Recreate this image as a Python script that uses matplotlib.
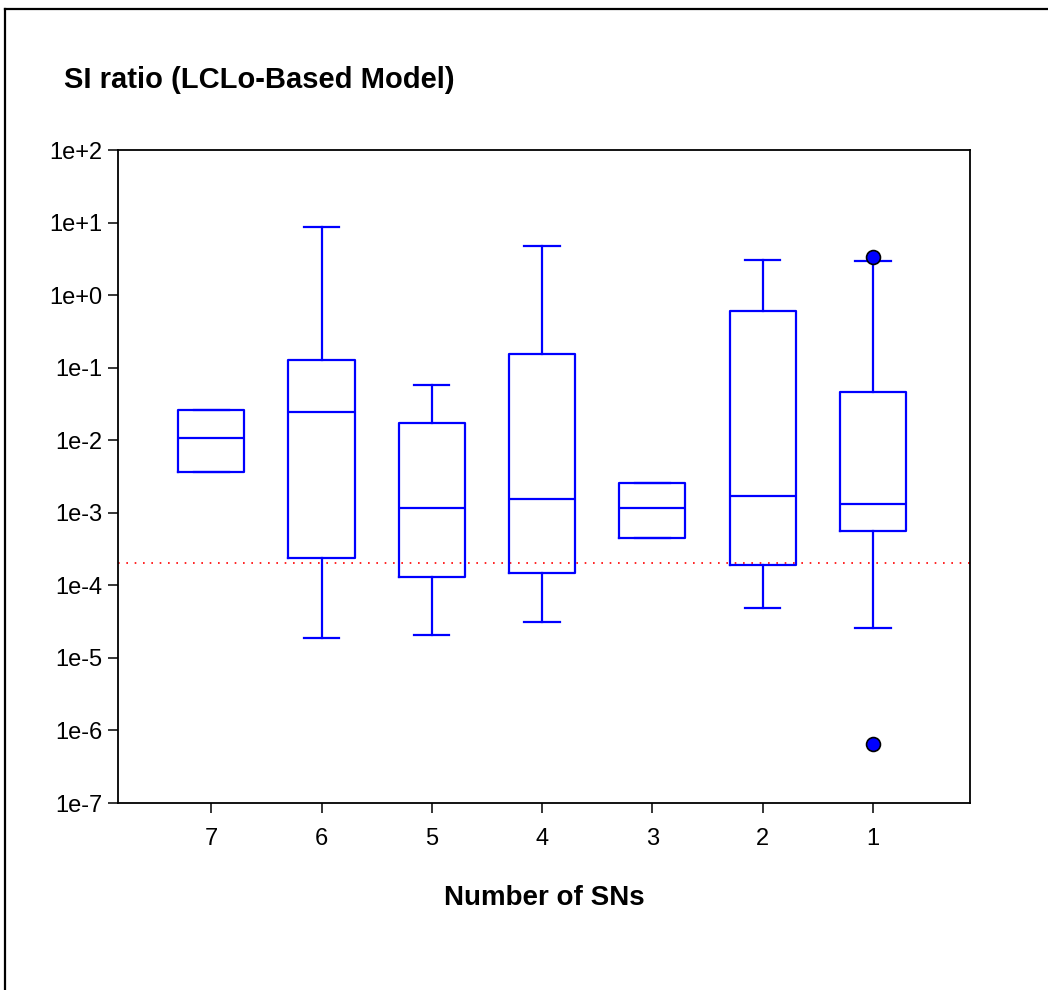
import matplotlib
matplotlib.use("Agg")
import matplotlib.pyplot as plt
from matplotlib.lines import Line2D
from matplotlib.ticker import FixedLocator, NullLocator

# Box statistics per number of SNs (log-scale SI ratio)
categories = ["7", "6", "5", "4", "3", "2", "1"]
whisker_low = [3.7e-3, 1.9e-5, 2.1e-5, 3.1e-5, 4.5e-4, 4.9e-5, 2.6e-5]
q1 = [3.7e-3, 2.35e-4, 1.3e-4, 1.5e-4, 4.5e-4, 1.89e-4, 5.6e-4]
medians = [1.07e-2, 2.45e-2, 1.16e-3, 1.53e-3, 1.17e-3, 1.72e-3, 1.31e-3]
q3 = [2.6e-2, 0.126, 1.71e-2, 0.154, 2.55e-3, 0.604, 4.67e-2]
whisker_high = [2.6e-2, 8.8, 5.7e-2, 4.75, 2.55e-3, 3.05, 2.95]
outliers = [[], [], [], [], [], [], [3.3, 6.5e-7]]

threshold = 2e-4
ytick_values = [1e-7, 1e-6, 1e-5, 1e-4, 1e-3, 1e-2, 1e-1, 1e0, 1e1, 1e2]
ytick_labels = ["1e-7", "1e-6", "1e-5", "1e-4", "1e-3", "1e-2", "1e-1",
                "1e+0", "1e+1", "1e+2"]

plt.rcParams["font.family"] = ["Liberation Sans", "DejaVu Sans"]

W, H = 1048, 990
fig = plt.figure(figsize=(W / 100, H / 100), dpi=100)
ax = fig.add_axes([118 / W, 1 - 803 / H, (970 - 118) / W, (803 - 150) / H])

stats = []
for i, name in enumerate(categories):
    stats.append(dict(label=name, whislo=whisker_low[i], q1=q1[i],
                      med=medians[i], q3=q3[i], whishi=whisker_high[i],
                      fliers=outliers[i]))

blue = "#0000ff"
positions = list(range(1, len(categories) + 1))
line_kw = dict(color=blue, linewidth=1.6)
ax.bxp(stats, positions=positions, widths=0.6, capwidths=0.32,
       showfliers=True,
       boxprops=line_kw, whiskerprops=line_kw, capprops=line_kw,
       medianprops=line_kw,
       flierprops=dict(marker="o", markerfacecolor=blue,
                       markeredgecolor="black", markersize=10,
                       markeredgewidth=1.2, linestyle="none"))

ax.axhline(threshold, color="red", linewidth=1.2, linestyle=(0, (1, 4)),
           zorder=1)

ax.set_yscale("log")
ax.set_ylim(1e-7, 1e2)
ax.set_xlim(0.154, 7.88)
ax.yaxis.set_major_locator(FixedLocator(ytick_values))
ax.yaxis.set_minor_locator(NullLocator())
ax.set_yticklabels(ytick_labels)
ax.set_xticks(positions)
ax.set_xticklabels(categories)

for s in ax.spines.values():
    s.set_linewidth(1.3)
    s.set_color("black")
ax.tick_params(axis="both", which="major", direction="out", length=7,
               width=1.1, labelsize=17, colors="black")
ax.tick_params(axis="y", pad=4)
ax.tick_params(axis="x", pad=11)

ax.set_xlabel("Number of SNs", fontsize=20, fontweight="bold", labelpad=25)
fig.text(64 / W, 1 - 80 / H, "SI ratio (LCLo-Based Model)", fontsize=21,
         fontweight="bold", ha="left", va="center")

# Frame around the figure (top and left edges)
fig.add_artist(Line2D([5 / W, 1.0], [1 - 9 / H, 1 - 9 / H],
                      transform=fig.transFigure, color="black", linewidth=1.6))
fig.add_artist(Line2D([5 / W, 5 / W], [0.0, 1 - 9 / H],
                      transform=fig.transFigure, color="black", linewidth=1.6))

fig.savefig("out.png", dpi=100)
